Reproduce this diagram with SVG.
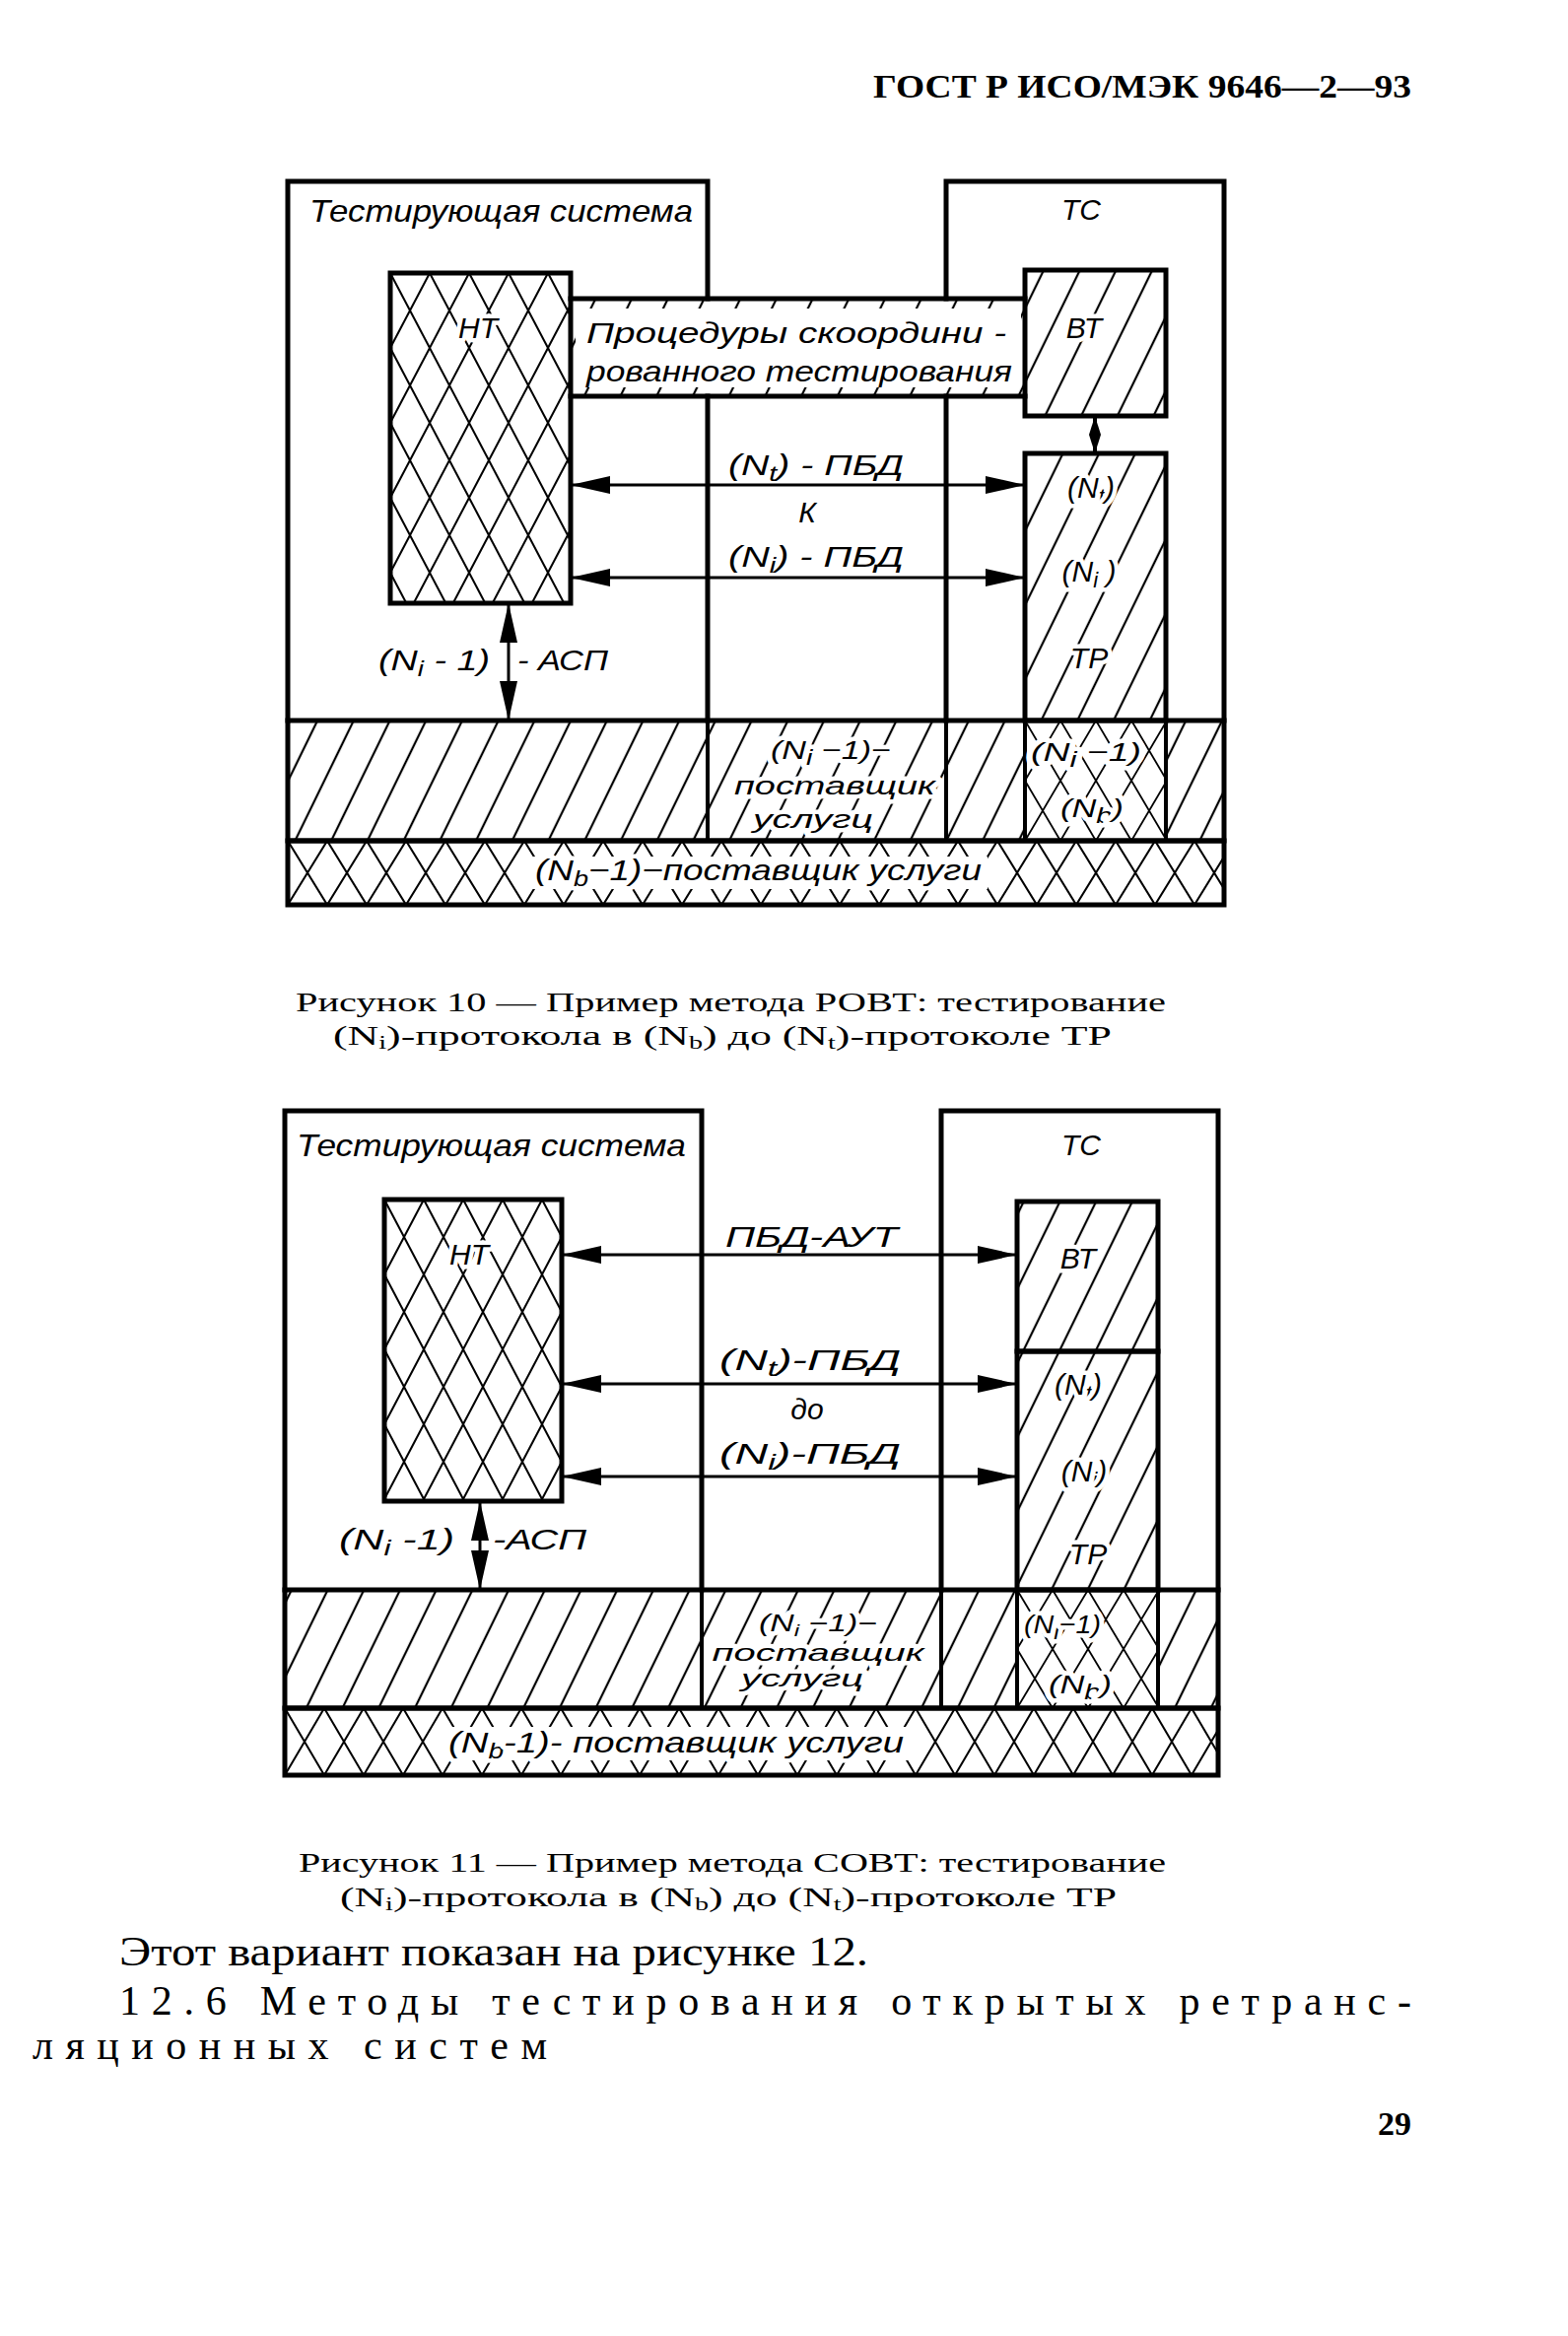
<svg xmlns="http://www.w3.org/2000/svg" width="1591" height="2370" viewBox="0 0 1591 2370">
<style>
.o{stroke:#000;stroke-width:5;stroke-linecap:square}
.n{fill:none}
.d{fill:none;stroke:#000;stroke-width:4}
.a{fill:none;stroke:#000;stroke-width:3;marker-start:url(#ah);marker-end:url(#ah)}
.as{fill:none;stroke:#000;stroke-width:4;marker-start:url(#ahs);marker-end:url(#ahs)}
.lb{font-family:"Liberation Sans","DejaVu Sans",sans-serif;font-style:italic;font-size:30px;fill:#000}
.ts{font-size:32px}
.sm{font-size:26px}
.m{text-anchor:middle}
.h{stroke:#fff;stroke-width:9;stroke-linejoin:round;paint-order:stroke}
.sb{font-size:22px}
.cp{font-family:"Liberation Serif","DejaVu Serif",serif;font-size:28px;fill:#000}
.bd{font-family:"Liberation Serif","DejaVu Serif",serif;font-size:42px;fill:#000}
.hd{font-family:"Liberation Serif","DejaVu Serif",serif;font-weight:bold;font-size:33px;fill:#000}
</style>
<defs>
<pattern id="hl" width="33" height="20" patternUnits="userSpaceOnUse" patternTransform="rotate(26)"><line x1="16" y1="-5" x2="16" y2="25" stroke="#000" stroke-width="2.2"/></pattern>
<pattern id="xh" width="40" height="76" patternUnits="userSpaceOnUse" x="396" y="277"><path d="M-4,-7.6 L44,83.6 M44,-7.6 L-4,83.6" stroke="#000" stroke-width="2"/></pattern>
<pattern id="xh2" width="40" height="76" patternUnits="userSpaceOnUse" x="390" y="1217"><path d="M-4,-7.6 L44,83.6 M44,-7.6 L-4,83.6" stroke="#000" stroke-width="2"/></pattern>
<pattern id="xb1" width="40" height="65" patternUnits="userSpaceOnUse" x="292" y="853"><path d="M-4,-6.5 L44,71.5 M44,-6.5 L-4,71.5" stroke="#000" stroke-width="2"/></pattern>
<pattern id="xb2" width="40" height="68" patternUnits="userSpaceOnUse" x="289" y="1733"><path d="M-4,-6.8 L44,74.8 M44,-6.8 L-4,74.8" stroke="#000" stroke-width="2"/></pattern>
<pattern id="xc1" width="36" height="61" patternUnits="userSpaceOnUse" x="1040" y="731"><path d="M-4,-6.8 L40,67.8 M40,-6.8 L-4,67.8" stroke="#000" stroke-width="1.8"/></pattern>
<pattern id="xc2" width="36" height="60" patternUnits="userSpaceOnUse" x="1032" y="1613"><path d="M-4,-6.7 L40,66.7 M40,-6.7 L-4,66.7" stroke="#000" stroke-width="1.8"/></pattern>
<marker id="ah" viewBox="0 0 40 18" refX="40" refY="9" markerWidth="40" markerHeight="18" markerUnits="userSpaceOnUse" orient="auto-start-reverse"><path d="M0,0 L40,9 L0,18 z" fill="#000"/></marker>
<marker id="ahs" viewBox="0 0 19 12" refX="19" refY="6" markerWidth="19" markerHeight="12" markerUnits="userSpaceOnUse" orient="auto-start-reverse"><path d="M0,0 L19,6 L0,12 z" fill="#000"/></marker>
</defs>
<rect width="1591" height="2370" fill="#fff"/>

<text class="hd" x="886" y="99" textLength="546" lengthAdjust="spacingAndGlyphs">ГОСТ Р ИСО/МЭК 9646—2—93</text>

<!-- ===================== Figure 10 ===================== -->
<g id="fig10">
 <g id="f10-testing-system">
  <path class="o n" d="M292,731 V184 H718 V303 M718,402 V731"/>
  <text class="lb ts" x="314" y="225" textLength="389" lengthAdjust="spacingAndGlyphs">Тестирующая система</text>
 </g>
 <g id="f10-tc">
  <path class="o n" d="M960,303 V184 H1242 V731 M960,402 V731"/>
  <text class="lb m" x="1097" y="223">ТС</text>
 </g>
 <g id="f10-layer-n-1">
  <rect x="292" y="731" width="950" height="122" fill="url(#hl)"/>
  <rect x="1040" y="731" width="143" height="122" fill="#fff"/>
  <rect x="1040" y="731" width="143" height="122" fill="url(#xc1)"/>
  <rect class="o n" x="292" y="731" width="950" height="122"/>
  <path class="d" d="M718,731 V853 M960,731 V853 M1040,731 V853 M1183,731 V853"/>
  <text class="lb m h sm" x="843" y="770" textLength="122" lengthAdjust="spacingAndGlyphs">(N<tspan class="sb" dy="6">i</tspan><tspan dy="-6"> −1)−</tspan></text>
  <text class="lb m h sm" x="847" y="806" textLength="204" lengthAdjust="spacingAndGlyphs">поставщик</text>
  <text class="lb m h sm" x="825" y="840" textLength="122" lengthAdjust="spacingAndGlyphs">услугц</text>
  <text class="lb m h sm" x="1102" y="772" textLength="112" lengthAdjust="spacingAndGlyphs">(N<tspan class="sb" dy="6">i</tspan><tspan dy="-6"> −1)</tspan></text>
  <text class="lb m h sm" x="1108" y="829" textLength="64" lengthAdjust="spacingAndGlyphs">(N<tspan class="sb" dy="6">b</tspan><tspan dy="-6">)</tspan></text>
 </g>
 <g id="f10-layer-nb-1">
  <rect class="o" x="292" y="853" width="950" height="65" fill="url(#xb1)"/>
  <rect x="538" y="869" width="464" height="33" fill="#fff"/>
  <text class="lb h" x="543" y="893" textLength="453" lengthAdjust="spacingAndGlyphs">(N<tspan class="sb" dy="6">b</tspan><tspan dy="-6">−1)−поставщик услуги</tspan></text>
 </g>
 <g id="f10-band">
  <rect x="579" y="303" width="461" height="99" fill="url(#hl)"/>
  <rect x="584" y="313" width="452" height="80" fill="#fff"/>
  <path class="o n" d="M579,303 H1040 M579,402 H1040"/>
  <text class="lb" x="595" y="348" textLength="426" lengthAdjust="spacingAndGlyphs">Процедуры скоордини -</text>
  <text class="lb" x="595" y="387" textLength="432" lengthAdjust="spacingAndGlyphs">рованного тестирования</text>
 </g>
 <g id="f10-nt">
  <rect class="o" x="396" y="277" width="183" height="335" fill="url(#xh)"/>
  <text class="lb m h" x="485" y="343">НТ</text>
 </g>
 <g id="f10-vt">
  <rect class="o" x="1040" y="274" width="143" height="148" fill="url(#hl)"/>
  <text class="lb m h" x="1100" y="343">ВТ</text>
 </g>
 <g id="f10-tr">
  <rect class="o" x="1040" y="460" width="143" height="271" fill="url(#hl)"/>
  <text class="lb m h" x="1107" y="505">(N<tspan class="sb" dy="6">t</tspan><tspan dy="-6">)</tspan></text>
  <text class="lb m h" x="1105" y="590">(N<tspan class="sb" dy="6">i</tspan><tspan dy="-6"> )</tspan></text>
  <text class="lb m h" x="1105" y="678">ТР</text>
 </g>
 <g id="f10-connectors">
  <line class="a" x1="579" y1="492" x2="1040" y2="492"/>
  <line class="a" x1="579" y1="586" x2="1040" y2="586"/>
  <line class="as" x1="1111" y1="422" x2="1111" y2="460"/>
  <line class="a" x1="516" y1="612" x2="516" y2="731"/>
 </g>
 <g id="f10-labels">
  <text class="lb" x="739" y="482" textLength="178" lengthAdjust="spacingAndGlyphs">(N<tspan class="sb" dy="6">t</tspan><tspan dy="-6">) - ПБД</tspan></text>
  <text class="lb m" x="819" y="530">К</text>
  <text class="lb" x="739" y="575" textLength="178" lengthAdjust="spacingAndGlyphs">(N<tspan class="sb" dy="6">i</tspan><tspan dy="-6">) - ПБД</tspan></text>
  <text class="lb" x="384" y="680" textLength="113" lengthAdjust="spacingAndGlyphs">(N<tspan class="sb" dy="6">i</tspan><tspan dy="-6"> - 1)</tspan></text>
  <text class="lb" x="525" y="680" textLength="92" lengthAdjust="spacingAndGlyphs">- АСП</text>
 </g>
</g>
<text class="cp" x="300" y="1026" textLength="883" lengthAdjust="spacingAndGlyphs">Рисунок 10 — Пример метода РОВТ: тестирование</text>
<text class="cp" x="338" y="1060" textLength="790" lengthAdjust="spacingAndGlyphs">(N<tspan font-size="18" dy="4">i</tspan><tspan dy="-4">)-протокола в (N</tspan><tspan font-size="18" dy="4">b</tspan><tspan dy="-4">) до (N</tspan><tspan font-size="18" dy="4">t</tspan><tspan dy="-4">)-протоколе ТР</tspan></text>

<!-- ===================== Figure 11 ===================== -->
<g id="fig11">
 <g id="f11-testing-system">
  <path class="o n" d="M289,1613 V1127 H712 V1613"/>
  <text class="lb ts" x="301" y="1173" textLength="395" lengthAdjust="spacingAndGlyphs">Тестирующая система</text>
 </g>
 <g id="f11-tc">
  <path class="o n" d="M955,1613 V1127 H1236 V1613"/>
  <text class="lb m" x="1097" y="1172">ТС</text>
 </g>
 <g id="f11-layer-n-1">
  <rect x="289" y="1613" width="947" height="120" fill="url(#hl)"/>
  <rect x="1032" y="1613" width="143" height="120" fill="#fff"/>
  <rect x="1032" y="1613" width="143" height="120" fill="url(#xc2)"/>
  <rect class="o n" x="289" y="1613" width="947" height="120"/>
  <path class="d" d="M712,1613 V1733 M955,1613 V1733 M1032,1613 V1733 M1175,1613 V1733"/>
  <text class="lb m h" style="font-size:24px" x="830" y="1655" textLength="120" lengthAdjust="spacingAndGlyphs">(N<tspan style="font-size:17px" dy="5">i</tspan><tspan dy="-5"> −1)−</tspan></text>
  <text class="lb m h" style="font-size:24px" x="830" y="1685" textLength="215" lengthAdjust="spacingAndGlyphs">поставщик</text>
  <text class="lb m h" style="font-size:24px" x="814" y="1711" textLength="124" lengthAdjust="spacingAndGlyphs">услугц</text>
  <text class="lb m h sm" x="1078" y="1657" textLength="78" lengthAdjust="spacingAndGlyphs">(N<tspan class="sb" dy="6">i</tspan><tspan dy="-6">−1)</tspan></text>
  <text class="lb m h sm" x="1096" y="1718" textLength="64" lengthAdjust="spacingAndGlyphs">(N<tspan class="sb" dy="6">b</tspan><tspan dy="-6">)</tspan></text>
 </g>
 <g id="f11-layer-nb-1">
  <rect class="o" x="289" y="1733" width="947" height="68" fill="url(#xb2)"/>
  <rect x="450" y="1752" width="472" height="34" fill="#fff"/>
  <text class="lb h" x="455" y="1778" textLength="462" lengthAdjust="spacingAndGlyphs">(N<tspan class="sb" dy="6">b</tspan><tspan dy="-6">-1)- поставщик услуги</tspan></text>
 </g>
 <g id="f11-nt">
  <rect class="o" x="390" y="1217" width="180" height="306" fill="url(#xh2)"/>
  <text class="lb m h" x="476" y="1283">НТ</text>
 </g>
 <g id="f11-vt">
  <rect class="o" x="1032" y="1219" width="143" height="152" fill="url(#hl)"/>
  <text class="lb m h" x="1094" y="1287">ВТ</text>
 </g>
 <g id="f11-tr">
  <rect class="o" x="1032" y="1371" width="143" height="242" fill="url(#hl)"/>
  <text class="lb m h" x="1094" y="1415">(N<tspan class="sb" dy="6">t</tspan><tspan dy="-6">)</tspan></text>
  <text class="lb m h" x="1100" y="1503">(N<tspan class="sb" dy="6">i</tspan><tspan dy="-6">)</tspan></text>
  <text class="lb m h" x="1104" y="1587">ТР</text>
 </g>
 <g id="f11-connectors">
  <line class="a" x1="570" y1="1273" x2="1032" y2="1273"/>
  <line class="a" x1="570" y1="1404" x2="1032" y2="1404"/>
  <line class="a" x1="570" y1="1498" x2="1032" y2="1498"/>
  <line class="a" x1="487" y1="1523" x2="487" y2="1613"/>
 </g>
 <g id="f11-labels">
  <text class="lb" x="736" y="1265" textLength="175" lengthAdjust="spacingAndGlyphs">ПБД-АУТ</text>
  <text class="lb" x="730" y="1390" textLength="184" lengthAdjust="spacingAndGlyphs">(N<tspan class="sb" dy="6">t</tspan><tspan dy="-6">)-ПБД</tspan></text>
  <text class="lb m" x="819" y="1440">до</text>
  <text class="lb" x="730" y="1485" textLength="184" lengthAdjust="spacingAndGlyphs">(N<tspan class="sb" dy="6">i</tspan><tspan dy="-6">)-ПБД</tspan></text>
  <text class="lb" x="344" y="1572" textLength="117" lengthAdjust="spacingAndGlyphs">(N<tspan class="sb" dy="6">i</tspan><tspan dy="-6"> -1)</tspan></text>
  <text class="lb" x="500" y="1572" textLength="95" lengthAdjust="spacingAndGlyphs">-АСП</text>
 </g>
</g>
<text class="cp" x="303" y="1899" textLength="880" lengthAdjust="spacingAndGlyphs">Рисунок 11 — Пример метода СОВТ: тестирование</text>
<text class="cp" x="345" y="1934" textLength="788" lengthAdjust="spacingAndGlyphs">(N<tspan font-size="18" dy="4">i</tspan><tspan dy="-4">)-протокола в (N</tspan><tspan font-size="18" dy="4">b</tspan><tspan dy="-4">) до (N</tspan><tspan font-size="18" dy="4">t</tspan><tspan dy="-4">)-протоколе ТР</tspan></text>

<text class="bd" x="121" y="1994" textLength="760" lengthAdjust="spacingAndGlyphs">Этот вариант показан на рисунке 12.</text>
<text class="bd" x="121" y="2044" textLength="1311" lengthAdjust="spacing">12.6 Методы тестирования открытых ретранс-</text>
<text class="bd" x="33" y="2089" textLength="522" lengthAdjust="spacing">ляционных систем</text>
<text class="hd" x="1398" y="2166" font-size="36" textLength="34" lengthAdjust="spacingAndGlyphs">29</text>
</svg>
